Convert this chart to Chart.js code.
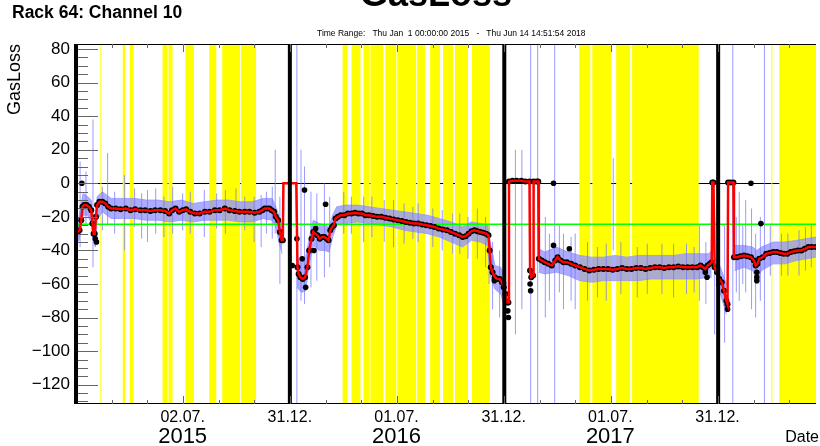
<!DOCTYPE html>
<html>
<head>
<meta charset="utf-8">
<script src="https://cdn.jsdelivr.net/npm/chart.js@4.4.1/dist/chart.umd.min.js"></script>
<style>
  html, body { margin: 0; padding: 0; background: #fff; overflow: hidden; }
</style>
</head>
<body>
<canvas id="gasLoss" width="820" height="446"></canvas>
<script>
// all x values are days counted from Thu 1 Jan 2015 (day 0)

const yearLineDays = [0, 365, 731, 1096];
const xTickDays = [182, 365, 547, 730, 912, 1095];
const xTickLabels = ['02.07.', '31.12.', '01.07.', '31.12.', '01.07.', '31.12.'];
const yearTickDays = [182, 547, 912];
const yearLabels = ['2015', '2016', '2017'];
const yTickValues = [-120, -100, -80, -60, -40, -20, 0, 20, 40, 60, 80];
const referenceLevel = -24.4;

// yellow background bands [start, end]
const bandStart = [41.6, 79.8, 91.7, 147.7, 157.9, 186.8, 227.5, 249.6, 281.8, 455, 470.3, 490.7, 502.5, 528, 548.4, 582.3, 604.4, 626.5, 646.9, 675.7, 859, 881.2, 921.9, 949.1, 1186.8, 1200.3];
const bandEnd   = [43.3, 84, 98.5, 156.2, 164.7, 201.2, 239.4, 280.1, 307.3, 463.5, 485.6, 500.8, 524.6, 546.7, 580.6, 595.9, 621.4, 643.5, 669, 706.3, 877.8, 913.4, 945.7, 1062.8, 1188.5, 1263];

// smoothed gas loss (red line, black daily points)
const meanDays = [0, 3, 6, 9, 11, 14, 18, 22, 26, 28, 30, 32, 34, 36, 40, 45, 50, 55, 60, 68, 76, 85, 93, 101, 110, 118, 127, 135, 144, 152, 159, 164, 170, 176, 182, 188, 195, 203, 211, 220, 228, 237, 245, 254, 262, 271, 279, 288, 296, 305, 313, 318, 322, 326, 330, 334, 338, 341, 345, 348, 351, 353,
  354, 376,
  378, 380, 383, 387, 391, 395, 398, 402, 405, 408, 412, 416, 420, 424, 428, 431, 434, 437, 440, 443, 447, 452, 458, 464, 470, 476, 482, 488, 494, 500, 507, 514, 521, 528, 535, 542, 549, 556, 563, 570, 577, 584, 591, 598, 605, 612, 619, 626, 633, 640, 647, 654, 660, 665, 670, 675, 680, 685, 690, 695, 700, 704, 706, 708, 711, 715, 719, 723, 727, 730, 733, 736, 738,
  739, 745, 752, 760, 767, 774, 775, 777, 780, 781, 786, 789,
  790, 795, 800, 806, 812, 818, 822, 827, 832, 838, 845, 852, 860, 868, 876, 884, 892, 900, 908, 916, 924, 932, 940, 948, 956, 964, 972, 980, 988, 996, 1004, 1012, 1020, 1028, 1036, 1044, 1052, 1060, 1066, 1070, 1074, 1078, 1082, 1085,
  1086, 1088,
  1090, 1094, 1098, 1102, 1106, 1110, 1112,
  1113, 1117, 1122,
  1123, 1128, 1134, 1140, 1146, 1152, 1157, 1160, 1163, 1166, 1172, 1178, 1184, 1190, 1196, 1202, 1208, 1214, 1220, 1226, 1232, 1238, 1244, 1250, 1256, 1263];
const meanVals = [-28, -29, -28, -22, -14, -13, -13, -14, -16, -24, -30, -30, -20, -13, -11, -11, -12, -14, -15, -15, -15.5, -15, -16, -15.5, -16, -16, -16.5, -16, -16, -16.5, -18, -16, -15, -17, -16, -15.5, -17, -18, -18, -17, -17, -16, -16, -15, -16, -16.5, -17, -17, -17, -17.5, -17, -16, -15, -15, -15, -16, -17, -20, -22, -29, -34, -34,
  0, 0,
  -50, -54, -56, -57, -56, -50, -40, -33, -29, -30, -31, -33, -32, -32, -33, -34, -28, -26, -25, -21, -20, -19, -19, -18, -18, -17.5, -18, -18, -19, -19, -19.5, -20, -20, -20.5, -21, -21.5, -22, -22.5, -23, -23.5, -24, -24, -24.5, -25, -25.5, -26, -27, -27.5, -28, -29, -30, -31, -32, -31.5, -30, -28.5, -28, -28.5, -29, -29.5, -30, -31, -40, -50, -53, -56, -57, -57, -59, -62, -66, -71, -71,
  1, 1.5, 1.5, 1.5, 1, 1, -52, -56, -55, 1, 1, 1,
  -45, -46, -47, -48, -49, -46, -44, -46, -47, -47, -48, -49, -50, -51, -52, -51.5, -51, -51, -51, -51.5, -51, -50.5, -51, -51, -50.5, -50.5, -51, -50.5, -50, -50, -50.5, -50, -50, -49.5, -50, -50, -50, -50, -49, -50, -51, -49, -48, -47,
  0.5, 0.5,
  -50, -53, -57, -59, -64, -70, -72,
  0.5, 0.5, 0.5,
  -44, -44, -43.5, -43, -43.5, -44, -46, -49, -48, -45, -44, -42, -41.5, -41, -41, -41.5, -42, -42, -41, -40.5, -40, -40, -39, -38, -38, -38];

// single daily points far from the smoothed curve
const outlierDays = [10, 33, 35, 369, 377, 386, 390, 392, 406, 409, 426, 714, 737, 738, 775, 776, 815, 815, 842, 1074, 1077, 1112, 1152, 1162, 1162, 1162, 1169];
const outlierVals = [0, -33, -35, -49, -33, -45, -4, -62, -40, -27, -12.5, -58, -76, -80, -60, -64, 0, -37, -39, -53, -56, -75, 0, -53, -56, -58, -24];

// raw readings: envelope of the blue trace (null = no data)
const rawDays = [0, 5, 9, 12, 20, 26, 29, 33, 36, 45, 60, 80, 100, 120, 140, 160, 180, 200, 220, 240, 260, 280, 300, 320, 335, 341, 347, 352, 354, 377, 385, 392, 398, 405, 415, 425, 432, 438, 445, 460, 480, 500, 520, 540, 560, 580, 600, 620, 640, 660, 675, 690, 702, 707, 715, 725, 735, 739, 790, 800, 820, 840, 860, 880, 900, 920, 940, 960, 980, 1000, 1020, 1040, 1060, 1080, 1085, 1087, 1092, 1100, 1110, 1113, 1124, 1140, 1155, 1162, 1170, 1190, 1210, 1230, 1263];
const rawHi = [-22, -20, -12, -6, -8, -10, -18, -22, -8, -5, -9, -9, -9, -10, -10, -11, -10, -12, -11, -10, -10, -11, -11, -9, -9, -14, -20, -25, null, -44, -48, -44, -33, -22, -24, -25, -26, -19, -14, -13, -13, -14, -15, -16, -17, -18, -19, -21, -23, -26, -23, -24, -25, -35, -49, -50, -60, null, -39, -41, -38, -41, -43, -44, -44, -43, -44, -43, -43, -43, -43, -42, -42, -42, -40, null, -45, -50, -60, null, -37, -37, -38, -40, -38, -35, -35, -34, -32];
const rawLo = [-36, -34, -26, -19, -19, -24, -34, -38, -22, -17, -21, -21, -21, -22, -22, -23, -22, -23, -22, -22, -22, -23, -23, -21, -22, -26, -36, -42, null, -62, -65, -64, -48, -37, -40, -40, -41, -32, -25, -24, -23, -24, -25, -26, -28, -29, -30, -32, -35, -38, -34, -35, -37, -55, -63, -66, -78, null, -53, -54, -53, -55, -58, -59, -58, -58, -58, -58, -57, -57, -57, -57, -57, -56, -56, null, -60, -66, -78, null, -52, -50, -52, -58, -52, -48, -48, -46, -44];

// single raw readings sticking out of the band
const spikeDays = [7, 17, 29, 45, 54, 66, 83, 100, 112, 122, 136, 150, 165, 182, 195, 219, 240, 255, 273, 288, 304, 316, 325, 335, 340, 348,
  377, 384, 390, 401, 411, 424, 433, 457, 470, 491, 505, 526, 542, 560, 575, 584, 609, 625, 643, 655, 669, 685, 699, 705, 711, 723,
  750, 761, 776, 788, 801, 808, 817, 825, 832, 845, 852, 873, 890, 905, 917, 930, 958, 975, 1000, 1020, 1042, 1055, 1064, 1075,
  1090, 1107, 1121, 1127, 1132, 1138, 1143, 1153, 1160, 1168, 1175, 1185, 1204, 1215, 1234, 1245, 1255];
const spikeLo = [-38, -25, -50, -28, -25, -30, -40, -26, -33, -35, -30, -32, -30, -28, -30, -32, -27, -30, -22, -28, -35, -38, -30, -33, -30, -60,
  -200, -70, -72, -62, -58, -56, -50, -30, -30, -35, -32, -35, -38, -36, -33, -35, -38, -40, -42, -42, -45, -45, -50, -60, -75, -80,
  -90, -75, -200, -200, -80, -70, -200, -65, -75, -70, -75, -70, -68, -70, -40, -66, -68, -66, -66, -68, -66, -65, -70, -72,
  -90, -95, -200, -65, -70, -60, -65, -75, -80, -70, -200, -55, -55, -55, -55, -52, -50];
const spikeHi = [13, 7, 38, -2, 18, -5, 5, -3, -6, -4, -3, -8, -2, -6, -5, -4, -6, -4, -3, -8, -8, -7, -5, -2, 20, -8,
  200, 20, 10, -5, -6, 0, -8, -5, -8, -8, -8, -10, -10, -12, -14, -12, -15, -16, -18, -18, -20, -15, -20, -25, -35, -40,
  20, 20, 200, 200, -20, -30, 200, -25, -30, -32, -30, -35, -38, -36, 15, -35, -38, -36, -36, -36, -36, -38, -25, -35,
  -20, -25, 200, -20, -5, -25, -10, -15, -30, -20, 200, -25, -30, -30, -28, -26, -25];

const FONT = '"Liberation Sans", Arial, Helvetica, sans-serif';
const BLUE = 'rgba(150,150,255,0.8)';

const pts = (xs, ys) => xs.map((d, i) => ({ x: d, y: ys[i] }));
const spikePts = [];
spikeDays.forEach((d, i) => {
  spikePts.push({ x: d, y: spikeLo[i] }, { x: d, y: spikeHi[i] }, { x: d, y: null });
});

const rootLook = {
  id: 'rootLook',
  beforeDatasetsDraw(chart) {
    const { ctx, chartArea: a, scales: { x, y } } = chart;
    ctx.save();
    // zero line sits under the yellow bands
    const y0 = Math.round(y.getPixelForValue(0)) + 0.5;
    ctx.strokeStyle = '#000';
    ctx.lineWidth = 1;
    ctx.beginPath();
    ctx.moveTo(a.left, y0);
    ctx.lineTo(a.right, y0);
    ctx.stroke();
    ctx.fillStyle = '#ffff00';
    bandStart.forEach((s, i) => {
      const x0 = x.getPixelForValue(s);
      const x1 = x.getPixelForValue(bandEnd[i]);
      ctx.fillRect(x0, a.top, Math.max(1, x1 - x0), a.bottom - a.top);
    });
    ctx.restore();
  },
  afterDatasetsDraw(chart) {
    const { ctx, chartArea: a, scales: { x, y } } = chart;
    ctx.save();
    // year boundaries
    ctx.fillStyle = '#000';
    yearLineDays.forEach(d => {
      const px = x.getPixelForValue(d);
      ctx.fillRect(px - 2, a.top, 4, a.bottom - a.top);
    });
    // frame top/bottom
    ctx.fillRect(a.left, a.top, a.right - a.left, 1);
    ctx.fillRect(a.left, a.bottom - 1, a.right - a.left, 1);
    // inward ticks
    ctx.strokeStyle = '#666';
    ctx.lineWidth = 1;
    ctx.beginPath();
    for (let k = 1; k < 21; k++) {
      const px = Math.round(x.getPixelForValue(k * 365.25 / 6)) + 0.5;
      const len = k % 3 === 0 ? 8 : 4;
      ctx.moveTo(px, a.bottom); ctx.lineTo(px, a.bottom - len);
      ctx.moveTo(px, a.top); ctx.lineTo(px, a.top + len);
    }
    for (let v = -130; v <= 80; v += 5) {
      const py = Math.round(y.getPixelForValue(v)) + 0.5;
      const len = v % 20 === 0 ? 20 : 10;
      ctx.moveTo(a.left + 2, py); ctx.lineTo(a.left + 2 + len, py);
    }
    ctx.stroke();
    ctx.restore();
  },
  afterDraw(chart) {
    const { ctx } = chart;
    ctx.save();
    ctx.fillStyle = '#000';
    ctx.textBaseline = 'alphabetic';
    ctx.font = 'bold 17.5px ' + FONT;
    ctx.textAlign = 'left';
    ctx.fillText('Rack 64: Channel 10', 12, 18);
    ctx.font = 'bold 36px ' + FONT;
    ctx.textAlign = 'center';
    ctx.fillText('GasLoss', 436, 6);
    ctx.font = '8.5px ' + FONT;
    ctx.textAlign = 'left';
    ctx.fillText('Time Range:   Thu Jan  1 00:00:00 2015   -   Thu Jun 14 14:51:54 2018', 317, 36);
    ctx.font = '16px ' + FONT;
    ctx.textAlign = 'right';
    ctx.fillText('Date', 819, 442);
    ctx.restore();
  }
};

new Chart(document.getElementById('gasLoss'), {
  type: 'line',
  data: {
    datasets: [
      { label: 'smoothed', data: pts(meanDays, meanVals), borderColor: '#ff0000', borderWidth: 2.5, pointRadius: 0, order: 0 },
      {
        label: 'daily', data: pts(meanDays, meanVals), showLine: false, order: 1,
        pointRadius: c => (c.raw && c.raw.y === 0) ? 0 : 3,
        pointBackgroundColor: '#000', pointBorderWidth: 0
      },
      { label: 'outliers', data: pts(outlierDays, outlierVals), showLine: false, pointRadius: 2.8, pointBackgroundColor: '#000', pointBorderWidth: 0, order: 2 },
      { label: 'reference', data: [{ x: 0, y: referenceLevel }, { x: 1263, y: referenceLevel }], borderColor: '#00ff00', borderWidth: 1.5, pointRadius: 0, order: 3 },
      { label: 'spikes', data: spikePts, borderColor: 'rgba(120,120,255,0.75)', borderWidth: 1, pointRadius: 0, spanGaps: false, order: 4 },
      { label: 'raw max', data: pts(rawDays, rawHi), borderColor: BLUE, borderWidth: 1, pointRadius: 0, spanGaps: false, fill: '+1', backgroundColor: BLUE, order: 5 },
      { label: 'raw min', data: pts(rawDays, rawLo), borderColor: BLUE, borderWidth: 1, pointRadius: 0, spanGaps: false, order: 6 }
    ]
  },
  options: {
    responsive: false,
    animation: false,
    events: [],
    layout: { padding: { top: 44, left: 0, right: 0, bottom: 0 } },
    plugins: { legend: { display: false }, tooltip: { enabled: false }, title: { display: false } },
    scales: {
      x: {
        type: 'linear', position: 'bottom', min: 0, max: 1263, offset: false,
        afterBuildTicks: s => { s.ticks = xTickDays.map(v => ({ value: v })); },
        afterFit: s => { s.height = 20; },
        ticks: { callback: (v, i) => xTickLabels[i], color: '#000', font: { family: FONT, size: 16 }, padding: 4, maxRotation: 0, autoSkip: false },
        grid: { display: false, drawTicks: false },
        border: { display: false }
      },
      years: {
        type: 'linear', position: 'bottom', axis: 'x', min: 0, max: 1263, offset: false,
        afterBuildTicks: s => { s.ticks = yearTickDays.map(v => ({ value: v })); },
        afterFit: s => { s.height = 22; },
        ticks: { callback: (v, i) => yearLabels[i], color: '#000', font: { family: FONT, size: 22 }, padding: 0, maxRotation: 0, autoSkip: false },
        grid: { display: false, drawTicks: false },
        border: { display: false }
      },
      y: {
        type: 'linear', min: -131.5, max: 83,
        afterBuildTicks: s => { s.ticks = yTickValues.map(v => ({ value: v })); },
        afterFit: s => { s.width = 76; },
        ticks: { callback: v => String(v).replace('-', '\u2212'), color: '#000', font: { family: FONT, size: 17 }, padding: 6 },
        grid: { display: false, drawTicks: false },
        border: { display: false },
        title: { display: true, text: 'GasLoss', align: 'end', color: '#000', font: { family: FONT, size: 18 }, padding: { top: 4, bottom: 0 } }
      }
    }
  },
  plugins: [rootLook]
});
</script>
</body>
</html>
